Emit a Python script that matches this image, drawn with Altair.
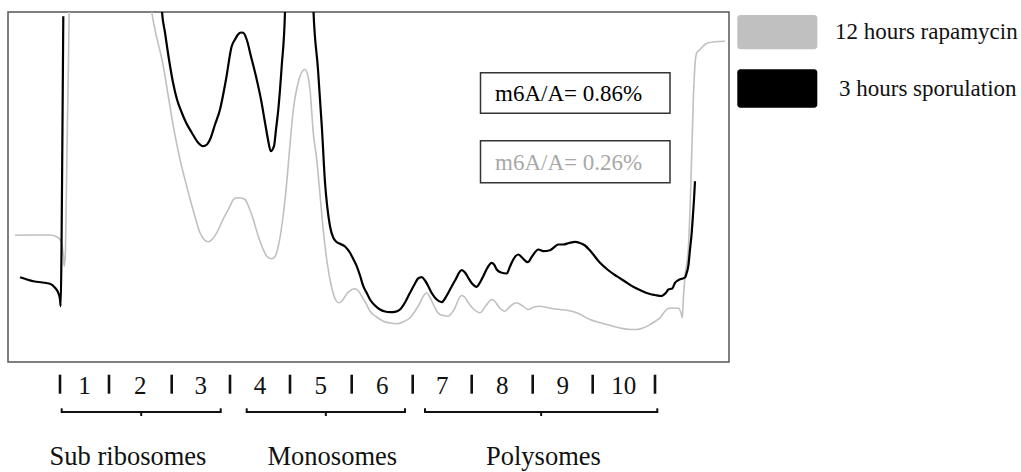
import altair as alt
import pandas as pd

# ---- Trace data (x: gradient position, mm; y: absorbance, a.u.) ----
gray_x = [0.70, 2.20, 4.20, 4.80, 5.20, 5.40, 5.55, 5.63, 5.75, 5.90, 6.05, 6.20,
          14.00, 14.37, 14.70, 15.53, 16.00, 16.53, 17.20, 17.87, 18.50, 19.20, 19.60,
          20.03, 20.40, 20.87, 21.50, 22.20, 22.50, 22.87, 23.30, 23.70, 24.10, 24.53,
          25.00, 25.53, 25.90, 26.37, 26.70, 27.03, 27.40, 27.87, 28.20, 28.53, 28.90,
          29.20, 29.50, 29.70, 29.90, 30.20, 30.53, 30.87, 31.20, 31.55, 31.90, 32.30,
          32.70, 33.10, 33.50, 33.90, 34.40, 34.70, 35.00, 35.37, 35.80, 36.20, 36.80,
          37.53, 38.20, 38.87, 39.50, 40.20, 41.00, 41.87, 42.20, 42.53, 42.90, 43.20,
          44.03, 44.40, 44.70, 45.00, 45.37, 45.70, 46.03, 46.60, 47.20, 47.80, 48.37,
          48.70, 49.03, 49.70, 50.20, 50.87, 51.40, 52.03, 52.60, 53.20, 53.90, 54.53,
          55.20, 55.87, 56.87, 58.20, 59.87, 61.20, 62.20, 62.87, 63.50, 64.20, 64.70,
          65.20, 65.60, 66.03, 66.40, 67.03, 67.30, 67.43, 67.53, 67.70, 68.03, 68.30,
          68.53, 68.70, 68.87, 69.20, 69.70, 70.03, 70.70, 71.70]
gray_y = [1.268, 1.270, 1.270, 1.255, 1.225, 1.175, 1.045, 0.958, 1.125, 2.125, 3.025, 3.925,
          3.925, 3.505, 3.325, 2.958, 2.675, 2.358, 2.025, 1.758, 1.525, 1.292, 1.225,
          1.202, 1.225, 1.292, 1.425, 1.558, 1.620, 1.642, 1.640, 1.625, 1.545, 1.425,
          1.265, 1.125, 1.055, 1.032, 1.055, 1.158, 1.375, 1.792, 2.175, 2.525, 2.745,
          2.858, 2.915, 2.925, 2.895, 2.725, 2.292, 2.025, 1.675, 1.295, 1.005, 0.775,
          0.635, 0.592, 0.625, 0.685, 0.725, 0.732, 0.715, 0.658, 0.585, 0.508, 0.455,
          0.408, 0.390, 0.382, 0.400, 0.442, 0.555, 0.692, 0.645, 0.575, 0.505, 0.475,
          0.458, 0.495, 0.542, 0.615, 0.665, 0.645, 0.592, 0.525, 0.492, 0.565, 0.625,
          0.605, 0.558, 0.508, 0.555, 0.592, 0.565, 0.525, 0.550, 0.558, 0.545, 0.532,
          0.525, 0.518, 0.492, 0.425, 0.375, 0.340, 0.325, 0.325, 0.340, 0.375, 0.405,
          0.442, 0.495, 0.535, 0.540, 0.538, 0.492, 0.442, 0.625, 0.858, 1.125, 1.825,
          2.625, 2.975, 3.092, 3.125, 3.175, 3.192, 3.202, 3.208]

black_x = [1.20, 2.53, 4.20, 4.70, 5.03, 5.20, 5.27, 5.35, 5.43, 5.53,
           15.20, 15.40, 15.70, 16.10, 16.50, 16.90, 17.37, 17.80, 18.37, 19.00, 19.50,
           19.90, 20.20, 20.70, 21.20, 21.80, 22.37, 22.70, 23.00, 23.30, 23.53, 23.87,
           24.30, 24.87, 25.30, 25.70, 26.00, 26.27, 26.60, 26.80, 27.03, 27.37, 27.70,
           27.80, 30.40, 30.55, 31.00, 31.40, 31.70, 31.90, 32.20, 32.53, 32.80, 33.20,
           33.70, 34.20, 34.50, 34.87, 35.20, 35.53, 35.90, 36.20, 36.70, 37.20, 37.70,
           38.20, 38.70, 39.20, 39.70, 40.20, 40.70, 41.00, 41.37, 41.70, 42.03, 42.40,
           42.87, 43.37, 43.70, 44.03, 44.70, 45.37, 45.70, 46.03, 46.40, 46.87, 47.20,
           47.53, 47.90, 48.37, 48.60, 48.87, 49.30, 49.87, 50.20, 50.53, 51.03, 51.40,
           51.97, 52.40, 53.03, 53.53, 54.20, 54.70, 55.03, 55.53, 56.10, 56.70, 57.20,
           57.70, 58.20, 59.20, 60.00, 60.87, 61.70, 62.53, 63.30, 64.20, 64.70, 65.37,
           65.60, 65.80, 66.03, 66.43, 66.70, 67.03, 67.47, 67.70, 67.87, 68.03, 68.20,
           68.37, 68.50, 68.60, 68.70]
black_y = [0.848, 0.808, 0.782, 0.742, 0.692, 0.625, 0.558, 1.125, 2.125, 3.458,
           3.925, 3.505, 3.295, 3.025, 2.795, 2.625, 2.495, 2.395, 2.295, 2.195, 2.158,
           2.175, 2.225, 2.375, 2.525, 2.825, 3.158, 3.225, 3.275, 3.295, 3.292, 3.225,
           3.055, 2.825, 2.625, 2.395, 2.225, 2.108, 2.158, 2.325, 2.525, 2.958, 3.502,
           3.925, 3.925, 3.505, 2.925, 2.325, 1.795, 1.575, 1.358, 1.242, 1.205, 1.182,
           1.155, 1.092, 1.035, 0.958, 0.865, 0.758, 0.685, 0.625, 0.565, 0.525, 0.505,
           0.498, 0.502, 0.525, 0.595, 0.692, 0.785, 0.835, 0.848, 0.815, 0.758, 0.685,
           0.625, 0.598, 0.635, 0.692, 0.815, 0.918, 0.895, 0.842, 0.785, 0.752, 0.795,
           0.858, 0.935, 0.992, 0.975, 0.925, 0.895, 0.885, 0.955, 1.025, 1.075, 1.045,
           0.998, 1.055, 1.125, 1.108, 1.118, 1.155, 1.175, 1.175, 1.190, 1.202, 1.190,
           1.165, 1.115, 0.992, 0.920, 0.858, 0.805, 0.752, 0.715, 0.680, 0.670, 0.660,
           0.675, 0.692, 0.725, 0.735, 0.792, 0.818, 0.835, 0.845, 0.892, 0.958, 1.125,
           1.292, 1.475, 1.625, 1.808]
black_seg = [1] * 10 + [2] * (len(black_x) - 10)

# ---- Fractions and groups ----
fraction_bounds = [5.20, 10.10, 16.37, 22.20, 28.20, 34.37, 40.47, 46.37, 52.47, 58.47, 64.70]
fraction_labels = ["1", "2", "3", "4", "5", "6", "7", "8", "9", "10"]
group_names = ["Sub ribosomes", "Monosomes", "Polysomes"]
group_start = [5.37, 23.87, 41.70]
group_end = [21.27, 39.70, 64.93]
group_label_x = [12.00, 32.43, 53.54]

legend_labels = ["12 hours rapamycin", "3 hours sporulation"]
legend_colors = ["#c0c0c0", "#000000"]
box_texts = ["m6A/A= 0.86%", "m6A/A= 0.26%"]

FONT = "Liberation Serif"
xs = alt.Scale(domain=[0, 72.1], nice=False, zero=False)
ys = alt.Scale(domain=[0, 3.5], nice=False, zero=False)

gray_df = pd.DataFrame({"x": gray_x, "y": gray_y})
black_df = pd.DataFrame({"x": black_x, "y": black_y, "seg": black_seg})

gray_line = alt.Chart(gray_df).mark_line(
    color=legend_colors[0], strokeWidth=1.6, clip=True, interpolate="monotone"
).encode(x=alt.X("x:Q", scale=xs, axis=None), y=alt.Y("y:Q", scale=ys, axis=None))

black_line = alt.Chart(black_df).mark_line(
    color=legend_colors[1], strokeWidth=2.2, clip=True, interpolate="monotone"
).encode(x=alt.X("x:Q", scale=xs, axis=None), y=alt.Y("y:Q", scale=ys, axis=None),
         detail="seg:N")

bounds_df = pd.DataFrame({"b": fraction_bounds})
ticks = alt.Chart(bounds_df).mark_rule(color="#111", strokeWidth=2.6).encode(
    x=alt.X("b:Q", scale=xs, axis=None), y=alt.value(362.7), y2=alt.value(381.7))

mids = [(fraction_bounds[i] + fraction_bounds[i + 1]) / 2 for i in range(len(fraction_labels))]
frac_df = pd.DataFrame({"m": mids, "lab": fraction_labels})
frac_text = alt.Chart(frac_df).mark_text(
    font=FONT, fontSize=25, baseline="alphabetic", align="center", color="#111"
).encode(x=alt.X("m:Q", scale=xs, axis=None), y=alt.value(381.7), text="lab:N")

grp_df = pd.DataFrame({"s": group_start, "e": group_end, "name": group_names, "lx": group_label_x})
grp_base = alt.Chart(grp_df).transform_calculate(mid="(datum.s + datum.e) / 2")
br_h = grp_base.mark_rule(color="#111", strokeWidth=2).encode(
    x=alt.X("s:Q", scale=xs, axis=None), x2="e:Q", y=alt.value(400))
br_l = grp_base.mark_rule(color="#111", strokeWidth=2).encode(
    x=alt.X("s:Q", scale=xs, axis=None), y=alt.value(396.3), y2=alt.value(401))
br_r = grp_base.mark_rule(color="#111", strokeWidth=2).encode(
    x=alt.X("e:Q", scale=xs, axis=None), y=alt.value(396.3), y2=alt.value(401))
br_c = grp_base.mark_rule(color="#111", strokeWidth=2).encode(
    x=alt.X("mid:Q", scale=xs, axis=None), y=alt.value(399), y2=alt.value(404))
grp_text = grp_base.mark_text(
    font=FONT, fontSize=26.5, baseline="alphabetic", align="center", color="#111"
).encode(x=alt.X("lx:Q", scale=xs, axis=None), y=alt.value(452.5), text="name:N")

one = pd.DataFrame({"k": [0]})
box1 = alt.Chart(one).mark_rect(fillOpacity=0, stroke="#333", strokeWidth=1.5).encode(
    x=alt.value(472.5), x2=alt.value(662), y=alt.value(60.7), y2=alt.value(101.3))
box2 = alt.Chart(one).mark_rect(fillOpacity=0, stroke="#333", strokeWidth=1.5).encode(
    x=alt.value(472.5), x2=alt.value(662), y=alt.value(128.7), y2=alt.value(170.7))
t1 = alt.Chart(one).mark_text(font=FONT, fontSize=23, align="left", baseline="alphabetic",
                              color="#000", text=box_texts[0]).encode(
    x=alt.value(487), y=alt.value(88.5))
t2 = alt.Chart(one).mark_text(font=FONT, fontSize=23, align="left", baseline="alphabetic",
                              color="#a8a8a8", text=box_texts[1]).encode(
    x=alt.value(487), y=alt.value(158))

leg1 = alt.Chart(one).mark_rect(color=legend_colors[0], cornerRadius=3).encode(
    x=alt.value(729.3), x2=alt.value(809.3), y=alt.value(3), y2=alt.value(37.3))
leg2 = alt.Chart(one).mark_rect(color=legend_colors[1], cornerRadius=3).encode(
    x=alt.value(729.3), x2=alt.value(809.3), y=alt.value(57.3), y2=alt.value(95.7))
lt1 = alt.Chart(one).mark_text(font=FONT, fontSize=23, align="left", baseline="alphabetic",
                               color="#111", text=legend_labels[0]).encode(
    x=alt.value(827), y=alt.value(27))
lt2 = alt.Chart(one).mark_text(font=FONT, fontSize=23, align="left", baseline="alphabetic",
                               color="#111", text=legend_labels[1]).encode(
    x=alt.value(831), y=alt.value(83.5))

chart = alt.layer(
    gray_line, black_line, ticks, frac_text, br_h, br_l, br_r, br_c, grp_text,
    box1, box2, t1, t2, leg1, leg2, lt1, lt2
).properties(
    width=721, height=350,
    padding={"left": 8, "top": 12, "right": 292, "bottom": 110},
    autosize=alt.AutoSizeParams(type="none"),
    background="white",
).configure_view(stroke="#555", strokeWidth=1.5)

chart.save("out.html", embed_options={"renderer": "svg", "actions": False})
